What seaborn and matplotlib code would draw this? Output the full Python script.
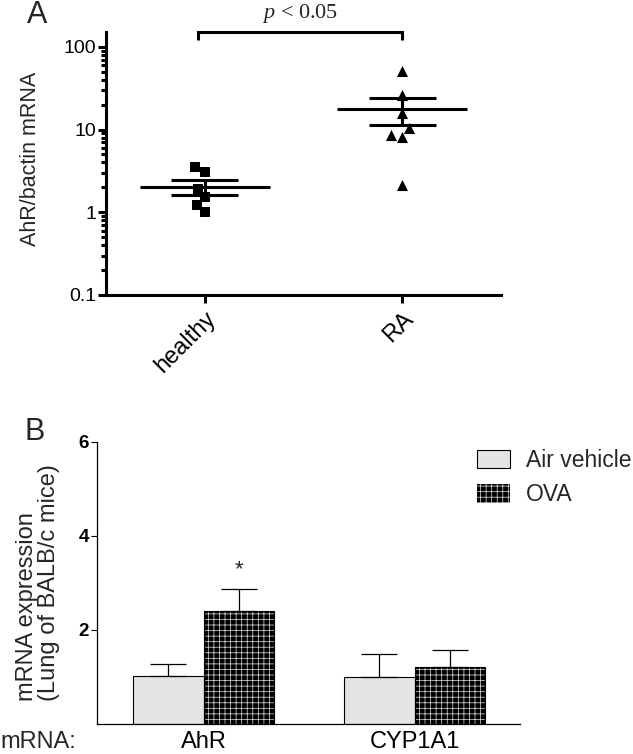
import numpy as np
import pandas as pd
import matplotlib
matplotlib.use("Agg")
import matplotlib.pyplot as plt
import seaborn as sns
from matplotlib.patches import Patch, Rectangle
from matplotlib.ticker import LogLocator, NullFormatter

# ---------------- data ----------------
groups_a = ["healthy", "RA"]
healthy_vals = [3.05, 3.53, 1.91, 1.53, 1.22, 1.00]
ra_vals = [51.0, 26.2, 15.9, 10.4, 8.6, 8.1, 2.14]
a_yticks = [0.1, 1, 10, 100]
a_yticklabels = ["0.1", "1", "10", "100"]

genes = ["AhR", "CYP1A1"]
conditions = ["Air vehicle", "OVA"]
air_means = [1.02, 1.00]
air_err = [0.26, 0.49]
ova_means = [2.40, 1.21]
ova_err = [0.47, 0.36]
b_yticks = [2, 4, 6]

# ---------------- style ----------------
sns.set_theme(style="ticks")
plt.rcParams["font.family"] = ["Liberation Sans", "DejaVu Sans"]
plt.rcParams["hatch.linewidth"] = 0.55
plt.rcParams["mathtext.fontset"] = "custom"
plt.rcParams["mathtext.it"] = "Liberation Serif:italic"
plt.rcParams["mathtext.rm"] = "Liberation Serif"

fig = plt.figure(figsize=(6.33, 7.54), dpi=100)

# ================= Panel A =================
axA = fig.add_axes([106 / 633, 1 - 295 / 754, 395 / 633, 262.5 / 754])
dfA = pd.DataFrame({
    "group": ["healthy"] * len(healthy_vals) + ["RA"] * len(ra_vals),
    "value": healthy_vals + ra_vals,
})
axA.set_yscale("log")
axA.set_ylim(0.1, 149)
axA.set_xlim(-0.5, 1.5)
sns.swarmplot(data=dfA[dfA.group == "healthy"], x="group", y="value", order=groups_a,
              marker="s", color="black", size=7.5, ax=axA, linewidth=0)
sns.swarmplot(data=dfA[dfA.group == "RA"], x="group", y="value", order=groups_a,
              marker="^", color="black", size=8, ax=axA, linewidth=0)

lwA = 2.2
for i, vals in enumerate([healthy_vals, ra_vals]):
    v = np.asarray(vals)
    m = v.mean()
    s = v.std(ddof=1) / np.sqrt(len(v))
    axA.hlines(m, i - 0.33, i + 0.33, color="black", lw=lwA, zorder=5)
    axA.hlines([m - s, m + s], i - 0.17, i + 0.17, color="black", lw=lwA, zorder=5)
    axA.vlines(i, m - s, m + s, color="black", lw=lwA, zorder=5)

axA.set_xlim(-0.5, 1.5)
axA.set_ylim(0.1, 149)
axA.set_yticks(a_yticks)
axA.set_yticklabels(a_yticklabels, fontsize=14)
axA.yaxis.set_minor_locator(LogLocator(base=10, subs=np.arange(2, 10)))
axA.yaxis.set_minor_formatter(NullFormatter())
axA.set_xticks(range(len(groups_a)))
axA.set_xticklabels(groups_a, rotation=45, ha="right", va="top",
                    rotation_mode="anchor", fontsize=17)
axA.set_xlabel("")
axA.set_ylabel("AhR/bactin mRNA", fontsize=15.5)
axA.yaxis.set_label_coords(-0.165, 0.52)
for sp in ["top", "right"]:
    axA.spines[sp].set_visible(False)
for sp in ["left", "bottom"]:
    axA.spines[sp].set_linewidth(lwA)
    axA.spines[sp].set_color("black")
axA.tick_params(axis="both", which="major", length=6, width=lwA, color="black",
                labelcolor="black")
axA.tick_params(axis="y", which="major", pad=1)
axA.tick_params(axis="y", which="minor", length=3.5, width=lwA, color="black")
axA.tick_params(axis="x", which="major", pad=3)

# significance bracket
xl, xr = -0.035, 1.0
axA.plot([xl, xl, xr, xr], [121, 149, 149, 121], color="black", lw=lwA,
         clip_on=False, solid_capstyle="butt", solid_joinstyle="miter")
axA.text(0.5 * (xl + xr), 1.073, "$\\it{p}$ < 0.05", transform=axA.get_xaxis_transform(),
         ha="center", va="center", fontsize=16, family="Liberation Serif")

fig.text(37 / 633, 1 - 15 / 754, "A", fontsize=22, ha="center", va="center")

# ================= Panel B =================
axB = fig.add_axes([97 / 633, 1 - 724 / 754, 423 / 633, 282 / 754])
dfB = pd.DataFrame({
    "gene": genes * 2,
    "condition": [conditions[0]] * len(genes) + [conditions[1]] * len(genes),
    "value": air_means + ova_means,
})
sns.barplot(data=dfB, x="gene", y="value", hue="condition", order=genes,
            hue_order=conditions, palette=["#e4e4e4", "black"], width=0.67,
            errorbar=None, edgecolor="black", linewidth=0.8, legend=False,
            saturation=1, ax=axB)

air_bars, ova_bars = axB.containers[0], axB.containers[1]
for p in ova_bars:
    p.set_facecolor("black")
    p.set_edgecolor("#d0d0d0")
    p.set_hatch("+++")
    p.set_linewidth(0)
    axB.add_patch(Rectangle(p.get_xy(), p.get_width(), p.get_height(), fill=False,
                            edgecolor="black", lw=0.8, zorder=p.get_zorder() + 0.1))

for bars, means, errs in [(air_bars, air_means, air_err), (ova_bars, ova_means, ova_err)]:
    xs = [p.get_x() + p.get_width() / 2 for p in bars]
    axB.errorbar(xs, means, yerr=[np.zeros(len(errs)), errs], fmt="none",
                 ecolor="black", elinewidth=0.9, capsize=13, capthick=0.9, zorder=1)

# significance star
p0 = ova_bars[0]
axB.text(p0.get_x() + p0.get_width() / 2, ova_means[0] + ova_err[0] + 0.18, "*",
         ha="center", va="bottom", fontsize=16)

axB.set_xlim(-0.505, 1.5)
axB.set_ylim(0, 6)
axB.set_yticks(b_yticks)
axB.set_yticklabels([str(t) for t in b_yticks], fontsize=13.5, fontweight="bold")
axB.set_xlabel("")
axB.set_ylabel("mRNA expression\n(Lung of BALB/c mice)", fontsize=17, labelpad=13,
               linespacing=1.0)
axB.yaxis.label.set_multialignment("left")
axB.tick_params(axis="y", length=4, width=0.8, color="black", labelcolor="black", pad=2)
axB.tick_params(axis="x", length=0, pad=5, labelsize=17, labelcolor="black")
for sp in ["top", "right"]:
    axB.spines[sp].set_visible(False)
for sp in ["left", "bottom"]:
    axB.spines[sp].set_linewidth(0.9)
    axB.spines[sp].set_color("black")

handles = [Patch(facecolor="#e4e4e4", edgecolor="black", lw=0.8, label=conditions[0]),
           Patch(facecolor="black", edgecolor="#d0d0d0", hatch="+++", lw=0, label=conditions[1])]
fig.legend(handles=handles, loc="upper left", bbox_to_anchor=(477 / 633, 1 - 449 / 754),
           frameon=False, fontsize=16.5, handlelength=1.45, handleheight=0.87,
           handletextpad=0.7, labelspacing=0.5, borderpad=0, borderaxespad=0)

fig.text(0, 1 - 742 / 754, "mRNA:", fontsize=17, ha="left", va="center")
fig.text(35 / 633, 1 - 432 / 754, "B", fontsize=22, ha="center", va="center")

fig.savefig("out.png", dpi=100)
